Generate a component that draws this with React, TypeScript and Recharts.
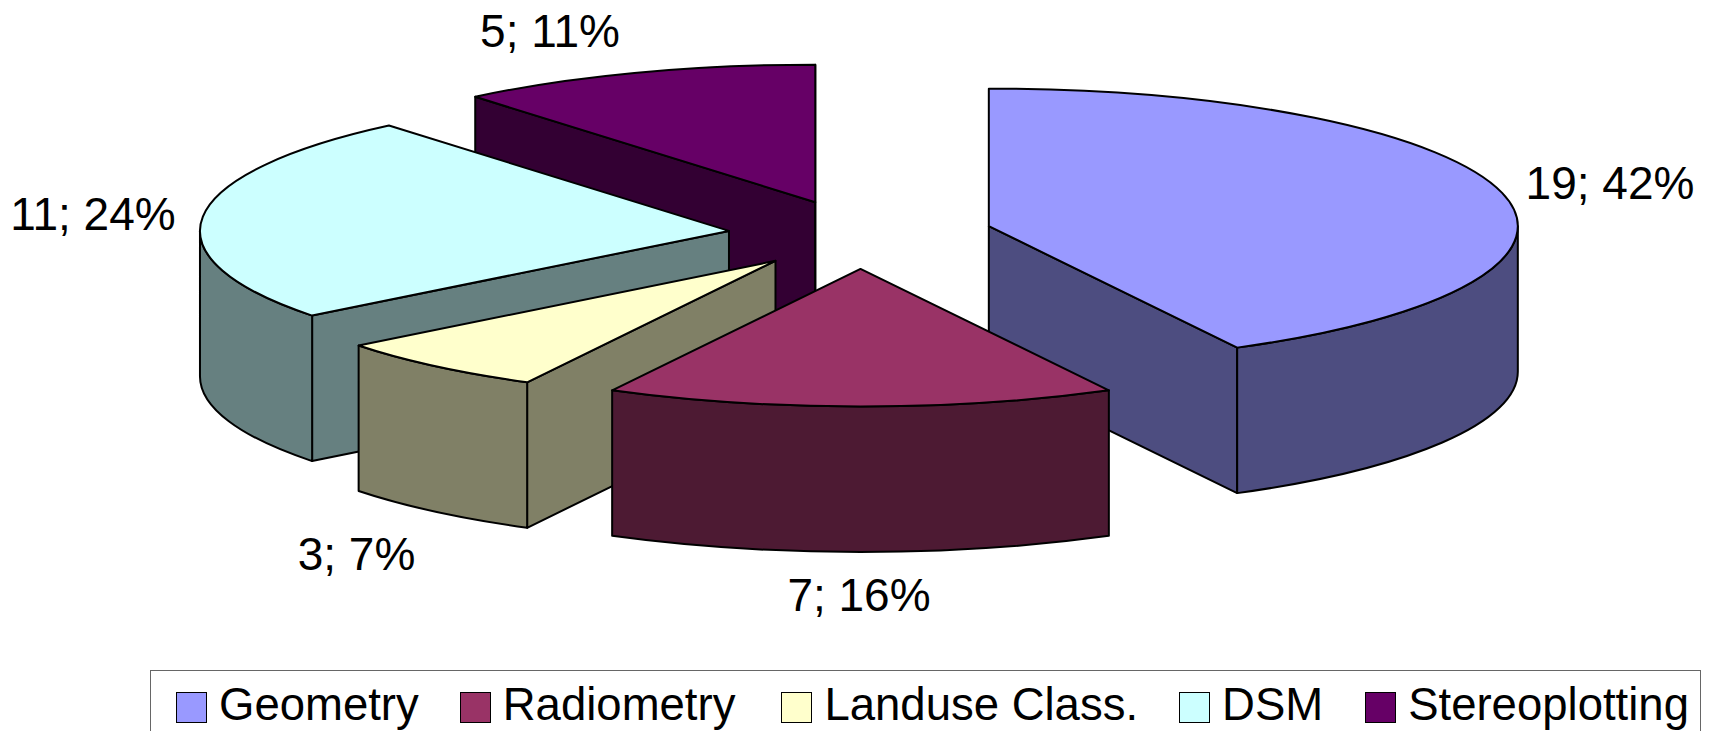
import { Legend, Pie, PieChart } from 'recharts';

const categories = ['Geometry', 'Radiometry', 'Landuse Class.', 'DSM', 'Stereoplotting'];
const values = [19, 7, 3, 11, 5];
const topColors = ['#9999FF', '#993366', '#FFFFCC', '#CCFFFF', '#660066'];
const sideColors = ['#4D4D80', '#4D1A33', '#808066', '#668080', '#330033'];
// back-to-front painting order, also going round the pie counter-clockwise
const paintOrder = ['Geometry', 'Stereoplotting', 'DSM', 'Landuse Class.', 'Radiometry'];

const WIDTH = 1710;
const HEIGHT = 731;
const CX = 860.5;
const CY = 234.5;
const RX = 529;
const SQUASH = 0.26;
const DEPTH = 145.5;
const EXPLODE = 0.25;
const FONT = '"Liberation Sans", Arial, sans-serif';

// centre of each data label, px
const LABEL_POS: Record<string, [number, number]> = {
  Geometry: [1610, 183],
  Radiometry: [859, 594.5],
  'Landuse Class.': [356.5, 554],
  DSM: [93, 213.5],
  Stereoplotting: [550, 30.5],
};
// space after each legend entry, px
const LEGEND_GAPS = [41, 46, 41, 42, 0];

const total = values.reduce((a, b) => a + b, 0);
const rows = paintOrder.map((name) => {
  const i = categories.indexOf(name);
  return { name, value: values[i], top: topColors[i], side: sideColors[i] };
});

const rad = (d: number) => (d * Math.PI) / 180;

function Slice3D(props: any) {
  const { cx, cy, outerRadius, startAngle, endAngle, payload } = props;
  const { top, side } = payload;
  const rx = outerRadius;
  const ry = outerRadius * SQUASH;
  // screen angle runs clockwise from 3 o'clock
  let t0 = -endAngle;
  let t1 = -startAngle;
  while (t0 < -180) {
    t0 += 360;
    t1 += 360;
  }
  const mid = rad((t0 + t1) / 2);
  const ax = cx + EXPLODE * rx * Math.cos(mid);
  const ay = cy + EXPLODE * ry * Math.sin(mid);
  const px = (t: number) => ax + rx * Math.cos(rad(t));
  const py = (t: number) => ay + ry * Math.sin(rad(t));
  const stroke = { stroke: '#000', strokeWidth: 2, strokeLinejoin: 'round' as const };

  const face = (t: number) =>
    `M${ax},${ay} L${px(t)},${py(t)} L${px(t)},${py(t) + DEPTH} L${ax},${ay + DEPTH} Z`;

  const wallFrom = Math.max(t0, 0);
  const wallTo = Math.min(t1, 180);
  const wall =
    wallTo > wallFrom
      ? `M${px(wallFrom)},${py(wallFrom)} A${rx},${ry} 0 0 1 ${px(wallTo)},${py(wallTo)} ` +
        `L${px(wallTo)},${py(wallTo) + DEPTH} A${rx},${ry} 0 0 0 ${px(wallFrom)},${py(wallFrom) + DEPTH} Z`
      : null;

  const large = t1 - t0 > 180 ? 1 : 0;
  const lid = `M${ax},${ay} L${px(t0)},${py(t0)} A${rx},${ry} 0 ${large} 1 ${px(t1)},${py(t1)} Z`;

  return (
    <g>
      {Math.cos(rad(t0)) < 0 && <path d={face(t0)} fill={side} {...stroke} />}
      {Math.cos(rad(t1)) > 0 && <path d={face(t1)} fill={side} {...stroke} />}
      {wall && <path d={wall} fill={side} {...stroke} />}
      <path d={lid} fill={top} {...stroke} />
    </g>
  );
}

function renderLabel(props: any) {
  const { name, value } = props;
  const [x, y] = LABEL_POS[name];
  return (
    <text
      x={x}
      y={y}
      textAnchor="middle"
      dominantBaseline="central"
      fontFamily={FONT}
      fontSize={46}
      fill="#000"
    >
      {`${value}; ${Math.round((value / total) * 100)}%`}
    </text>
  );
}

function LegendBox() {
  return (
    <div
      style={{
        boxSizing: 'border-box',
        width: 1551,
        height: 90,
        border: '1.5px solid #666',
        background: '#fff',
        display: 'flex',
        alignItems: 'flex-start',
        paddingLeft: 25,
        paddingTop: 10.5,
        fontFamily: FONT,
        fontSize: 45.5,
        lineHeight: '46px',
        color: '#000',
      }}
    >
      {categories.map((name, i) => (
        <div key={name} style={{ display: 'flex', alignItems: 'center', marginRight: LEGEND_GAPS[i] }}>
          <span
            style={{
              width: 31,
              height: 31,
              marginRight: 12,
              marginTop: 5,
              background: topColors[i],
              border: '1.5px solid #000',
              boxSizing: 'border-box',
            }}
          />
          <span style={{ whiteSpace: 'nowrap' }}>{name}</span>
        </div>
      ))}
    </div>
  );
}

export default function App() {
  return (
    <div
      style={{ position: 'absolute', left: 0, top: 0, width: WIDTH, height: HEIGHT, overflow: 'hidden', background: '#fff' }}
    >
      <PieChart width={WIDTH} height={HEIGHT} margin={{ top: 0, right: 0, bottom: 0, left: 0 }}>
        <Pie
          data={rows}
          dataKey="value"
          nameKey="name"
          cx={CX}
          cy={CY}
          innerRadius={0}
          outerRadius={RX}
          startAngle={-62}
          endAngle={298}
          stroke="none"
          shape={Slice3D}
          label={renderLabel}
          labelLine={false}
          isAnimationActive={false}
        />
        <Legend content={<LegendBox />} wrapperStyle={{ left: 150, top: 670, width: 1551, bottom: 'auto' }} />
      </PieChart>
    </div>
  );
}
